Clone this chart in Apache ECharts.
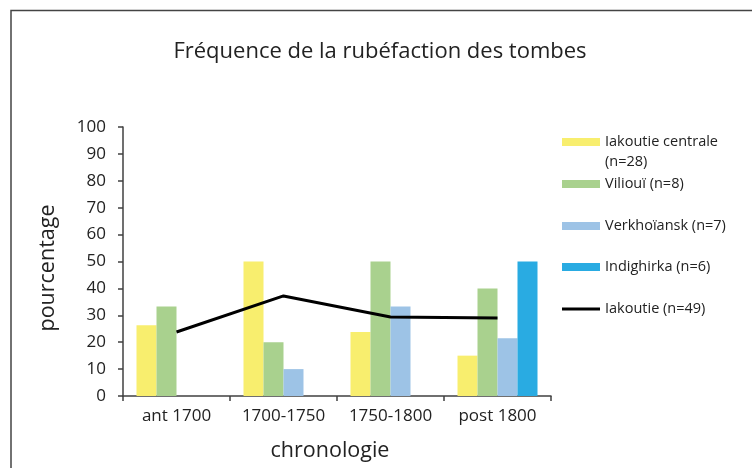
<!DOCTYPE html>
<html>
<head>
<meta charset="utf-8">
<script src="https://cdn.jsdelivr.net/npm/echarts@6/dist/echarts.min.js"></script>
<style>
  html, body { margin: 0; padding: 0; background: #fff; }
  #chart { width: 752px; height: 468px; }
</style>
</head>
<body>
<div id="chart"></div>
<script>
// données
const categories = ["ant 1700", "1700-1750", "1750-1800", "post 1800"];
const iakoutieCentrale = [26.3, 50, 23.8, 15];
const viliouI = [33.3, 20, 50, 40];
const verkhoiansk = [null, 10, 33.3, 21.5];
const indighirka = [null, null, null, 50];
const iakoutie = [23.8, 37.2, 29.4, 29];

const seriesNames = [
  "Iakoutie centrale (n=28)",
  "Vilioui\u0308 (n=8)",
  "Verkhoïansk (n=7)",
  "Indighirka (n=6)",
  "Iakoutie (n=49)"
];
const colors = ["#f8ee6e", "#a9d18e", "#9dc3e6", "#29abe2", "#000000"];
// centre vertical de chaque pastille de légende
const legendCenters = [142, 184, 226, 267, 309];

const font = "'Open Sans', 'Noto Sans', sans-serif";
const chart = echarts.init(document.getElementById("chart"));

function barSerie(i, data) {
  return {
    name: seriesNames[i],
    type: "bar",
    data: data,
    barWidth: 20,
    barGap: "0%",
    itemStyle: { color: colors[i] }
  };
}

const legends = seriesNames.map((name, i) => {
  const lg = {
    data: [name],
    left: 557,
    top: i === 0 ? legendCenters[i] - 35 : legendCenters[i] - 15,
    orient: "vertical",
    itemWidth: 38,
    itemHeight: i < 4 ? 8 : 3,
    icon: "rect",
    selectedMode: false,
    textStyle: {
      fontFamily: font,
      fontSize: 14.5,
      color: "#222",
      lineHeight: 20
    }
  };
  if (i === 0) lg.formatter = () => "\u00a0\nIakoutie centrale\n(n=28)";
  return lg;
});

chart.setOption({
  animation: false,
  color: colors,
  title: {
    text: "Fréquence de la rubéfaction des tombes",
    left: 375,
    textAlign: "center",
    top: 36,
    textStyle: { fontFamily: font, fontSize: 22, fontWeight: "normal", color: "#222" }
  },
  graphic: [{
    type: "polyline",
    shape: { points: [[11, 468], [11, 10.5], [752, 10.5]] },
    style: { stroke: "#444", lineWidth: 1.5, fill: null }
  }],
  legend: legends,
  grid: { left: 123, right: 201, top: 127, bottom: 72 },
  xAxis: {
    type: "category",
    data: categories,
    name: "chronologie",
    nameLocation: "middle",
    nameGap: 44,
    nameTextStyle: { fontFamily: font, fontSize: 21.5, color: "#222", padding: [0, 14, 0, 0] },
    axisLine: { lineStyle: { color: "#404040", width: 1.5 } },
    axisTick: { show: true, length: 5, lineStyle: { color: "#404040", width: 1.5 } },
    axisLabel: { fontFamily: font, fontSize: 17, color: "#222", margin: 12, interval: 0 }
  },
  yAxis: {
    type: "value",
    min: 0,
    max: 100,
    interval: 10,
    name: "pourcentage",
    nameLocation: "middle",
    nameRotate: 90,
    nameGap: 64,
    nameTextStyle: { fontFamily: font, fontSize: 21.5, color: "#222", padding: [0, 13, 0, 0] },
    splitLine: { show: false },
    axisLine: { show: true, lineStyle: { color: "#404040", width: 1.5 } },
    axisTick: { show: true, length: 5, lineStyle: { color: "#404040", width: 1.5 } },
    axisLabel: { fontFamily: font, fontSize: 17, color: "#222", margin: 17 }
  },
  series: [
    barSerie(0, iakoutieCentrale),
    barSerie(1, viliouI),
    barSerie(2, verkhoiansk),
    barSerie(3, indighirka),
    {
      name: seriesNames[4],
      type: "line",
      data: iakoutie,
      symbol: "none",
      lineStyle: { color: "#000", width: 3 },
      itemStyle: { color: "#000" },
      z: 5
    }
  ]
});
</script>
</body>
</html>
